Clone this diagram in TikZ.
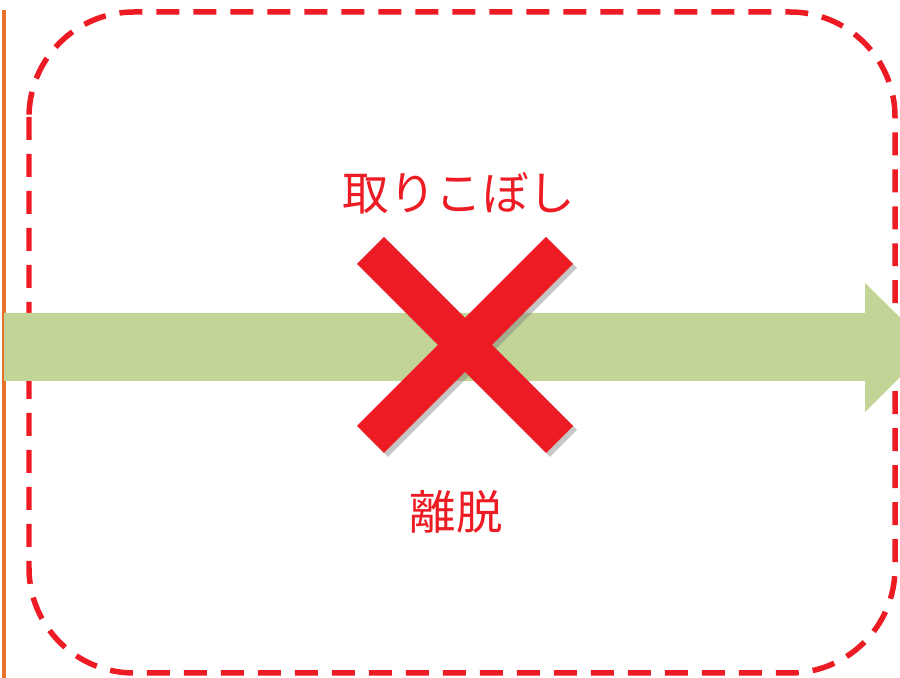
\documentclass[tikz,border=0pt]{standalone}
\usepackage{fontspec}
\newfontfamily\jpfont{Noto Sans CJK JP}
\usetikzlibrary{shadows}
\definecolor{crossred}{HTML}{ED1C24}
\definecolor{flowgreen}{HTML}{C3D596}
\definecolor{edgeorange}{HTML}{E8722C}
\tikzset{
  label jp/.style={text=crossred, font=\jpfont\fontsize{26.5}{30}\selectfont, inner sep=0pt},
  zone/.style={draw=crossred, line width=0.11cm, dash pattern=on 0.46cm off 0.28cm, rounded corners=2.1cm}
}
\begin{document}
\begin{tikzpicture}[x=0.02cm,y=-0.02cm]

	\useasboundingbox (0,0) rectangle (900,678);
	\clip (0,0) rectangle (900,678);

	\draw[edgeorange, line width=0.1cm] (4,10) -- (4,690);

	\draw[zone] (29,12) rectangle (895,673);

	\fill[flowgreen] (4,313) -- (865,313) -- (865,283) -- (930,347) --
        (865,412) -- (865,381) -- (4,381) -- cycle;

	\fill[crossred, drop shadow={shadow xshift=0.08cm, shadow yshift=-0.08cm, opacity=0.45}]
        [shift={(465,345)}] (-108,-81) -- (-81,-108) -- (0,-27) -- (81,-108) --
        (108,-81) -- (27,0) -- (108,81) -- (81,108) -- (0,27) -- (-81,108) --
        (-108,81) -- (-27,0) -- cycle;

	\node[label jp] (torikoboshi) at (459,193) {取りこぼし};
	\node[label jp] (ridatsu) at (456,512) {離脱};
      \end{tikzpicture}
\end{document}
